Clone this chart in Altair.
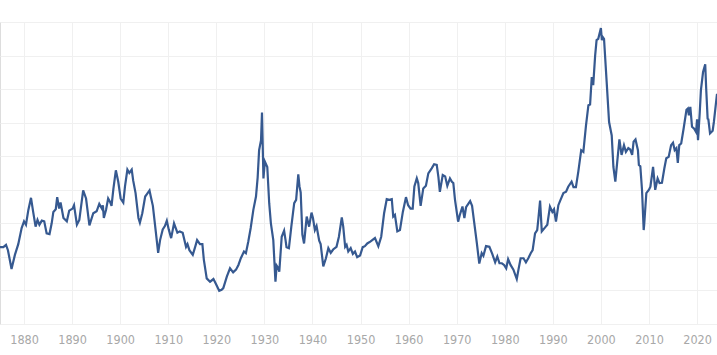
import altair as alt
import pandas as pd

years = [
    1875.0, 1875.7, 1876.25, 1876.65, 1877.4, 1878.1, 1878.8, 1879.5, 1880.0, 1880.4,
    1880.9, 1881.45, 1881.9, 1882.4, 1882.8, 1883.2, 1883.7, 1884.2, 1884.7, 1885.3,
    1885.75, 1886.1, 1886.6, 1886.9, 1887.3, 1887.6, 1888.2, 1888.9, 1889.4, 1890.1,
    1890.4, 1891.0, 1891.5, 1892.3, 1892.9, 1893.6, 1894.4, 1895.1, 1895.65, 1896.2,
    1896.4, 1896.6, 1897.05, 1897.5, 1897.9, 1898.2, 1898.6, 1899.1, 1899.6, 1900.1,
    1900.65, 1901.0, 1901.5, 1901.9, 1902.4, 1902.7, 1903.2, 1903.8, 1904.1, 1904.6,
    1905.2, 1905.6, 1906.1, 1906.4, 1906.8, 1907.4, 1907.9, 1908.3, 1908.85, 1909.3,
    1909.7, 1910.1, 1910.6, 1911.2, 1911.9, 1912.4, 1913.0, 1913.7, 1914.0, 1914.4,
    1915.1, 1915.6, 1916.0, 1916.6, 1917.1, 1917.4, 1918.0, 1918.7, 1919.4, 1919.9,
    1920.6, 1921.1, 1921.45, 1922.2, 1922.85, 1923.5, 1924.1, 1924.6, 1925.1, 1925.75,
    1926.15, 1926.65, 1927.15, 1927.7, 1928.25, 1928.6, 1928.9, 1929.3, 1929.5, 1929.8,
    1930.1, 1930.6, 1931.0, 1931.35, 1931.85, 1932.3, 1932.55, 1932.9, 1933.1, 1933.6,
    1934.1, 1934.4, 1934.6, 1935.1, 1935.6, 1936.2, 1936.6, 1937.05, 1937.3, 1937.55,
    1937.9, 1938.25, 1938.8, 1939.3, 1939.8, 1940.1, 1940.5, 1940.85, 1941.4, 1941.7,
    1942.25, 1942.8, 1943.3, 1943.8, 1944.3, 1945.0, 1945.5, 1946.1, 1946.4, 1946.8,
    1947.1, 1947.45, 1947.95, 1948.4, 1948.85, 1949.3, 1949.9, 1950.45, 1950.9, 1951.4,
    1952.1, 1953.0, 1953.7, 1954.3, 1954.9, 1955.45, 1956.0, 1956.5, 1956.8, 1957.15,
    1957.65, 1958.2, 1958.8, 1959.45, 1959.9, 1960.4, 1960.85, 1961.2, 1961.7, 1962.0,
    1962.5, 1963.05, 1963.6, 1964.1, 1964.8, 1965.3, 1965.85, 1966.2, 1966.5, 1967.1,
    1967.6, 1968.05, 1968.6, 1969.0, 1969.3, 1969.65, 1970.3, 1970.65, 1971.2, 1971.6,
    1971.95, 1972.8, 1973.2, 1973.7, 1974.2, 1974.7, 1975.2, 1975.55, 1976.1, 1976.8,
    1977.4, 1978.0, 1978.45, 1978.9, 1979.4, 1979.85, 1980.3, 1980.7, 1981.2, 1981.8,
    1982.5, 1982.85, 1983.3, 1983.9, 1984.4, 1984.9, 1985.4, 1985.8, 1986.3, 1986.75,
    1987.0, 1987.35, 1987.7, 1988.4, 1988.85, 1989.4, 1989.9, 1990.25, 1990.65, 1991.15,
    1991.6, 1992.2, 1992.75, 1993.2, 1993.9, 1994.3, 1994.8, 1995.3, 1995.9, 1996.35,
    1996.9, 1997.4, 1997.75, 1998.1, 1998.4, 1998.8, 1999.1, 1999.45, 2000.0, 2000.2,
    2000.4, 2000.65, 2001.2, 2001.7, 2002.25, 2002.6, 2003.0, 2003.4, 2003.85, 2004.3,
    2004.8, 2005.2, 2005.7, 2006.1, 2006.5, 2006.8, 2007.2, 2007.7, 2007.9, 2008.2,
    2008.55, 2008.9, 2009.0, 2009.45, 2010.0, 2010.3, 2010.85, 2011.3, 2011.8, 2012.2,
    2012.7, 2013.2, 2013.6, 2014.1, 2014.6, 2015.0, 2015.35, 2015.7, 2016.0, 2016.3,
    2016.7, 2017.2, 2017.8, 2018.1, 2018.3, 2018.6, 2018.95, 2019.4, 2019.8, 2020.0,
    2020.2, 2020.55, 2020.8, 2021.25, 2021.7, 2021.9, 2022.2, 2022.35, 2022.7, 2023.25,
    2023.5, 2024.15,
]

values = [
    11.45, 11.45, 11.8, 11.0, 8.2, 10.3, 11.9, 14.3, 15.3, 14.8,
    17.0, 18.8, 16.7, 14.5, 15.5, 14.8, 15.4, 15.3, 13.5, 13.4,
    15.0, 16.7, 17.1, 18.9, 17.2, 18.1, 15.8, 15.3, 16.9, 17.2,
    17.7, 14.8, 15.5, 19.9, 18.7, 14.7, 16.5, 16.8, 17.9, 17.2,
    17.7, 15.8, 17.0, 18.7, 18.2, 17.6, 20.2, 22.9, 21.2, 18.7,
    18.1, 20.5, 23.0, 22.5, 23.0, 21.4, 19.5, 15.8, 15.1, 16.5,
    19.0, 19.4, 19.9, 18.9, 17.6, 13.8, 10.6, 12.5, 14.1, 14.6,
    15.4, 14.1, 12.8, 15.0, 13.6, 13.8, 13.6, 11.5, 11.9, 11.0,
    10.3, 11.5, 12.5, 11.9, 11.9, 9.6, 6.8, 6.3, 6.7, 6.0,
    4.95, 5.1, 5.35, 7.1, 8.3, 7.7, 8.1, 8.8, 9.8, 10.8,
    10.55, 12.3, 14.3, 17.0, 19.0, 21.85, 25.9, 27.4, 31.5, 21.7,
    24.2, 23.4, 18.0, 15.0, 12.5, 6.3, 8.7, 8.3, 7.8, 13.0,
    13.9, 12.5, 11.45, 11.3, 14.5, 18.0, 18.5, 22.3, 20.5, 19.6,
    13.3, 12.0, 16.0, 14.5, 16.6, 15.8, 14.0, 14.6, 12.4, 11.9,
    8.6, 9.8, 11.3, 10.6, 11.1, 11.5, 13.0, 15.9, 14.5, 11.5,
    11.8, 10.8, 11.3, 10.45, 10.8, 9.95, 10.2, 11.45, 11.6, 12.0,
    12.3, 12.8, 11.6, 13.0, 16.5, 18.6, 18.5, 18.6, 16.0, 16.25,
    13.8, 14.0, 16.7, 18.9, 17.7, 17.2, 17.2, 20.5, 21.7, 21.0,
    17.6, 20.2, 20.6, 22.45, 23.2, 23.8, 23.7, 21.9, 19.7, 22.2,
    22.0, 20.6, 21.7, 21.2, 21.0, 18.5, 15.25, 16.25, 17.5, 15.8,
    17.4, 18.3, 17.6, 14.8, 12.0, 9.0, 10.55, 10.15, 11.6, 11.5,
    10.45, 9.2, 10.05, 9.05, 9.05, 8.8, 8.3, 9.65, 8.8, 8.1,
    6.7, 8.1, 9.8, 9.8, 9.2, 9.8, 10.55, 11.0, 13.5, 14.0,
    15.75, 18.4, 13.8, 14.4, 14.8, 17.5, 16.7, 17.1, 15.25, 17.7,
    18.5, 19.5, 19.7, 20.45, 21.2, 20.4, 20.4, 22.7, 25.9, 25.65,
    29.6, 32.6, 32.7, 36.8, 35.6, 40.0, 42.3, 42.5, 44.1, 42.3,
    42.75, 42.5, 36.05, 30.1, 28.1, 23.4, 21.2, 24.2, 27.5, 25.2,
    26.65, 25.65, 26.2, 26.0, 25.2, 27.15, 27.5, 25.9, 23.7, 23.5,
    20.0, 14.0, 14.75, 19.5, 20.0, 20.45, 23.4, 20.0, 21.7, 21.0,
    21.05, 23.2, 24.7, 24.9, 26.65, 27.0, 25.9, 26.2, 24.0, 26.65,
    26.9, 29.1, 31.9, 32.1, 31.1, 32.35, 29.4, 29.1, 28.6, 30.5,
    27.4, 31.4, 34.8, 37.55, 38.7, 35.1, 30.6, 30.5, 28.4, 28.8,
    30.1, 34.3,
]

x_ticks = [1880, 1890, 1900, 1910, 1920, 1930, 1940, 1950, 1960, 1970,
           1980, 1990, 2000, 2010, 2020]
y_ticks = [0, 5, 10, 15, 20, 25, 30, 35, 40, 45]

df = pd.DataFrame({"year": years, "value": values})

chart = (
    alt.Chart(df)
    .mark_line(color="#365990", strokeWidth=2.2, clip=True, interpolate="linear")
    .encode(
        x=alt.X(
            "year:Q",
            scale=alt.Scale(domain=[1875.0, 2024.15], nice=False, zero=False),
            axis=alt.Axis(
                values=x_ticks,
                format="d",
                title=None,
                domain=False,
                ticks=False,
                grid=True,
                gridColor="#f0f0f0",
                gridWidth=1,
                labelColor="#a8a8a8",
                labelFont="Liberation Sans Narrow, DejaVu Sans Condensed, Roboto, sans-serif",
                labelFontSize=12.5,
                labelPadding=9,
            ),
        ),
        y=alt.Y(
            "value:Q",
            scale=alt.Scale(domain=[0, 45], nice=False),
            axis=alt.Axis(
                values=y_ticks,
                title=None,
                labels=False,
                domain=False,
                ticks=False,
                grid=True,
                gridColor="#f0f0f0",
                gridWidth=1,
            ),
        ),
    )
    .properties(width=717, height=302, padding={"top": 22, "left": 0, "right": 0, "bottom": 0})
    .configure_view(stroke=None)
    .configure(background="white")
)

chart.save("out.html", embed_options={"renderer": "svg", "actions": False})
